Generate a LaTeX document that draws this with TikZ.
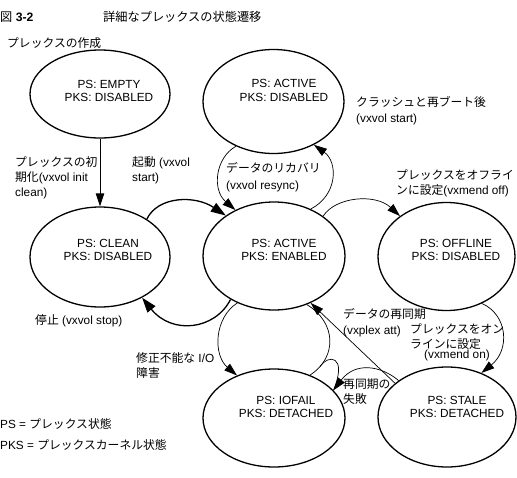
\documentclass[tikz,border=0pt]{standalone}
\usepackage{fontspec}
\setmainfont{Liberation Sans}
\newfontfamily\jp{Noto Sans CJK JP}
\usetikzlibrary{arrows.meta,shapes.geometric}
\newcommand\statefont{\fontsize{11.8}{13.5}\selectfont}
\newcommand\annf[1]{\fontsize{11.8}{#1}\selectfont}
\tikzset{
  stbox/.style={ellipse, draw, line width=1.3pt, inner sep=0pt},
  sttxt/.style={align=center, inner sep=0pt, font=\statefont},
  ann/.style={anchor=north west, align=left, inner sep=0pt, font=\annf{15}},
  thinln/.style={line width=0.7pt},
  thickln/.style={line width=1.3pt},
  arr/.style={-{Triangle[length=13pt,width=8.5pt]}},
  arrT/.style={-{Triangle[length=15pt,width=10pt]}},
}
\begin{document}
\begin{tikzpicture}[x=1pt,y=-1pt]
\useasboundingbox (0,0) rectangle (517,477);

% states
\node[stbox, minimum width=140pt, minimum height=88pt]  (empty)   at (100,94)  {};
\node[stbox, minimum width=141pt, minimum height=104pt] (ad)      at (273.5,101.5) {};
\node[stbox, minimum width=140pt, minimum height=100pt] (clean)   at (100,257) {};
\node[stbox, minimum width=142pt, minimum height=108pt] (ae)      at (274,256) {};
\node[stbox, minimum width=137pt, minimum height=108pt] (offline) at (446.5,256.5) {};
\node[stbox, minimum width=142pt, minimum height=98pt]  (iofail)  at (274,418) {};
\node[stbox, minimum width=138pt, minimum height=100pt] (stale)   at (447,417) {};

\node[sttxt] (emptyt) at (109,92.4)  {\strut PS: EMPTY\\\strut PKS: DISABLED};
\node[sttxt] (adt)    at (284,92)    {\strut PS: ACTIVE\\\strut PKS: DISABLED};
\node[sttxt] (cleant) at (108,251.4) {\strut PS: CLEAN\\\strut PKS: DISABLED};
\node[sttxt] (aet)    at (284,251.4) {\strut PS: ACTIVE\\\strut PKS: ENABLED};
\node[sttxt] (offt)   at (456,251.4) {\strut PS: OFFLINE\\\strut PKS: DISABLED};
\node[sttxt] (ioft)   at (286,408.4) {\strut PS: IOFAIL\\\strut PKS: DETACHED};
\node[sttxt] (stalet) at (457,408.4) {\strut PS: STALE\\\strut PKS: DETACHED};

% title and labels
\node[ann, font=\fontsize{12.2}{15}\selectfont] (fig) at (0,10.9) {\strut{\jp 図} \textbf{3-2}};
\node[ann, font=\fontsize{12.2}{15}\selectfont] (title) at (103,10.9) {\strut{\jp 詳細なプレックスの状態遷移}};
\node[ann] (create) at (7,36.5) {\strut{\jp プレックスの作成}};
\node[ann, font=\annf{16}] (crash) at (356,95.1) {\strut{\jp クラッシュと再ブート後}\\\strut(vxvol start)};
\node[ann, font=\annf{16.5}] (resync) at (226,160.75) {\strut{\jp データのリカバリ}\\\strut(vxvol resync)};
\node[ann] (off) at (396,168.8) {\strut{\jp プレックスをオフライ}\\\strut{\jp ンに設定}(vxmend off)};
\node[ann] (init) at (15,155.8) {\strut{\jp プレックスの初}\\\strut{\jp 期化}(vxvol init\\\strut clean)};
\node[ann] (start) at (132,155.8) {\strut{\jp 起動} (vxvol\\\strut start)};
\node[ann] (stop) at (35,313.8) {\strut{\jp 停止} (vxvol stop)};
\node[ann, font=\annf{14.5}] (iofl) at (136,352.15) {\strut{\jp 修正不能な} I/O\\\strut{\jp 障害}};
\node[ann, font=\annf{16}] (att) at (343,307.1) {\strut{\jp データの再同期}\\\strut(vxplex att)};
\node[ann, font=\annf{13.5}] (on) at (410,323.85) {\strut{\jp プレックスをオン}\\\strut{\jp ラインに設定}};
\node[ann] (onc) at (424,347.8) {\strut(vxmend on)};
\node[ann] (fail) at (343,377.8) {\strut{\jp 再同期の}\\\strut{\jp 失敗}};
\node[ann] (leg1) at (0,417.8) {\strut PS = {\jp プレックス状態}};
\node[ann] (leg2) at (0,438.8) {\strut PKS = {\jp プレックスカーネル状態}};

% connectors
\draw[line width=0.9pt, arr] (empty.south) -- (clean.north);
\draw[thickln, arrT] (clean.39) .. controls (158,196) and (195,195) .. (ae.140);
\draw[thinln, arr] (ad.230) .. controls (215,158) and (212,190) .. (ae.130);
\draw[thinln, arr] (ae.52) .. controls (338,195) and (338,162) .. (ad.-47);
\draw[thinln, arr] (ae.39) .. controls (335,197) and (375,193) .. (offline.139);
\draw[thickln, arrT] (ae.225) .. controls (215,330) and (172,335) .. (clean.-44);
\draw[thinln, arr] (ae.232) .. controls (214,318) and (213,355) .. (iofail.131);
\draw[thinln] (iofail.50) .. controls (338,357) and (336,322) .. (ae.-56) coordinate[pos=0.14] (hk);
\draw[thinln] (hk) .. controls (328,354) and (348,355) .. (iofail.25);
\draw[thinln, arr] (stale.143) .. controls (380,365) and (355,362) .. (iofail.25);
\draw[thinln, arr] (stale.147) -- (ae.-52);
\draw[thinln, arr] (offline.-53) .. controls (508,315) and (510,350) .. (stale.52);
\end{tikzpicture}
\end{document}
